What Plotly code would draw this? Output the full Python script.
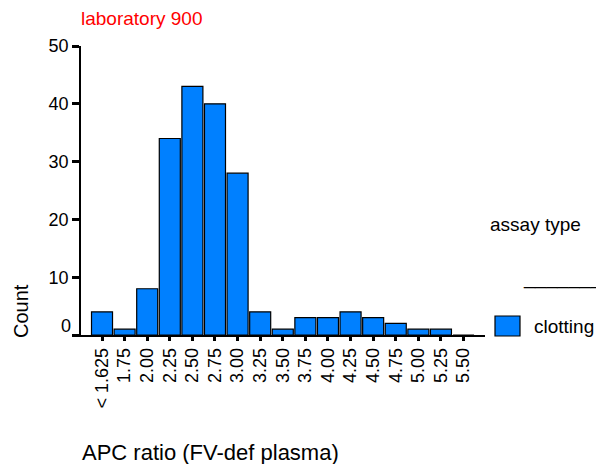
import plotly.graph_objects as go

categories = ["< 1.625", "1.75", "2.00", "2.25", "2.50", "2.75", "3.00", "3.25", "3.50",
              "3.75", "4.00", "4.25", "4.50", "4.75", "5.00", "5.25", "5.50"]
counts = [4, 1, 8, 34, 43, 40, 28, 4, 1, 3, 3, 4, 3, 2, 1, 1, 0]
y_ticks = [0, 10, 20, 30, 40, 50]
series_name = "clotting"
bar_color = "#0080FF"

FONT = "Liberation Sans, Arial, sans-serif"

# page is offset by the default 8px body margin
OFF = 8
# plot area in page pixels
L, R, T, B = 81, 485, 46, 335
W, H = 604, 464


def px(x):
    return (x - L) / (R - L)


def py(y):
    return (B - y) / (B - T)


fig = go.Figure()
fig.add_trace(go.Bar(
    x=list(range(len(categories))), y=counts, name=series_name,
    marker=dict(color=bar_color, line=dict(color="black", width=1.2)),
    showlegend=False,
))

fig.update_layout(
    width=W, height=H,
    margin=dict(l=L - OFF, r=W - (R - OFF), t=T - OFF, b=H - (B - OFF), autoexpand=False),
    paper_bgcolor="white", plot_bgcolor="white",
    bargap=0.07,
    font=dict(family=FONT, color="black"),
    xaxis=dict(
        range=[-0.93, 16.95], tickmode="array",
        tickvals=list(range(len(categories))), ticktext=categories,
        tickangle=-90, ticks="outside", ticklen=4, tickwidth=3, tickcolor="black",
        showline=True, linecolor="black", linewidth=1.5, showgrid=False, zeroline=False,
        tickfont=dict(size=18, family=FONT),
    ),
    yaxis=dict(
        range=[0, 50], tickmode="array", tickvals=y_ticks,
        ticktext=["" if v == 0 else str(v) for v in y_ticks],
        ticks="outside", ticklen=7, tickwidth=3, tickcolor="black",
        showline=True, linecolor="black", linewidth=1.5, showgrid=False, zeroline=False,
        tickfont=dict(size=18, family=FONT),
    ),
    annotations=[
        dict(text="laboratory 900", x=px(79), xanchor="left", y=py(18), yanchor="middle",
             xref="paper", yref="paper", showarrow=False,
             font=dict(size=19, color="red", family=FONT)),
        dict(text="0", xref="paper", yref="paper", x=px(73), xanchor="right",
             y=py(326), yanchor="middle", showarrow=False, font=dict(size=18, family=FONT)),
        dict(text="Count", xref="paper", yref="paper", x=px(21), xanchor="center",
             y=py(311), yanchor="middle",
             textangle=-90, showarrow=False, font=dict(size=20, family=FONT)),
        dict(text="APC ratio (FV-def plasma)", xref="paper", yref="paper",
             x=px(80), xanchor="left", y=py(452), yanchor="middle",
             showarrow=False, font=dict(size=22, family=FONT)),
        dict(text="assay type", xref="paper", yref="paper", x=px(488), xanchor="left",
             y=py(225), yanchor="middle", showarrow=False, font=dict(size=19, family=FONT)),
        dict(text="_______", xref="paper", yref="paper", x=px(521), xanchor="left",
             y=py(277), yanchor="middle", showarrow=False, font=dict(size=20, family=FONT)),
        dict(text=series_name, xref="paper", yref="paper", x=px(532), xanchor="left",
             y=py(326), yanchor="middle", showarrow=False, font=dict(size=19, family=FONT)),
    ],
    shapes=[
        dict(type="rect", xref="paper", yref="paper", x0=px(495), x1=px(520),
             y0=py(336), y1=py(316),
             fillcolor=bar_color, line=dict(color="black", width=1.2)),
    ],
)

fig.write_html("out.html")
